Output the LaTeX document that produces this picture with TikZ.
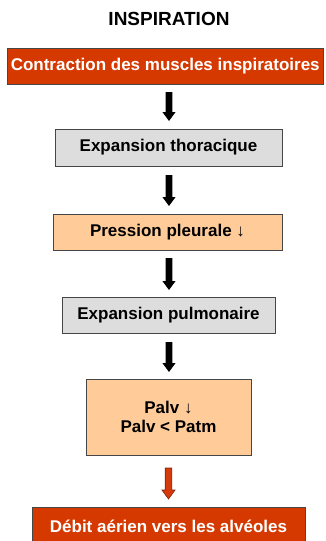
\documentclass[tikz,border=0pt]{standalone}
\usepackage{fontspec}
\setmainfont{Liberation Sans}
\usetikzlibrary{calc}
\definecolor{boxred}{RGB}{214,57,0}
\definecolor{arrred}{RGB}{214,57,10}
\definecolor{arrredline}{RGB}{120,40,20}
\definecolor{boxorange}{RGB}{255,204,153}
\definecolor{boxgray}{RGB}{221,221,221}
\definecolor{edge}{RGB}{70,70,70}
\newcommand\flowarrow[3]{%
  \filldraw[#1] ($(#2)+(-3.3,0)$) -- ($(#3)+(-3.3,-9)$) -- ($(#3)+(-6.6,-9)$) -- (#3)
    -- ($(#3)+(6.6,-9)$) -- ($(#3)+(3.3,-9)$) -- ($(#2)+(3.3,0)$) -- cycle;}
\begin{document}
\begin{tikzpicture}[x=1pt,y=-1pt,
  box/.style={draw=edge, line width=0.8pt, inner sep=0pt, align=center,
    font=\fontsize{17}{20}\selectfont\bfseries},
  redbox/.style={box, fill=boxred, text=white},
  graybox/.style={box, fill=boxgray, text=black},
  orangebox/.style={box, fill=boxorange, text=black},
  blackarr/.style={fill=black, draw=none},
  redarr/.style={fill=arrred, draw=arrredline, line width=0.6pt}]
\useasboundingbox (0,0) rectangle (326,541);
\fill[white] (0,0) rectangle (326,541);
\node[font=\fontsize{19}{22}\selectfont\bfseries] (title) at (169,18.5) {INSPIRATION};
\node[redbox, minimum width=315.5pt, minimum height=36pt] (b1) at (165.25,66) {Contraction des muscles inspiratoires};
\node[graybox, minimum width=227pt, minimum height=37pt] (b2) at (168.5,147.5) {Expansion thoracique};
\node[orangebox, minimum width=229pt, minimum height=36pt] (b3) at (167.5,232) {Pression pleurale ↓};
\node[graybox, minimum width=213pt, minimum height=36pt] (b4) at (168.5,315) {Expansion pulmonaire};
\node[orangebox, minimum width=165pt, minimum height=76pt] (b5) at (168.5,417) {Palv ↓\\[-1pt]Palv < Patm};
\node[redbox, minimum width=273pt, minimum height=38pt] (b6) at (168.5,526) {Débit aérien vers les alvéoles};
% connectors
\coordinate (s1) at (169,92);  \coordinate (e1) at (169,121);
\coordinate (s2) at (169,175); \coordinate (e2) at (169,206);
\coordinate (s3) at (169,258); \coordinate (e3) at (169,290);
\coordinate (s4) at (169,342); \coordinate (e4) at (169,372);
\coordinate (s5) at (168.5,468); \coordinate (e5) at (168.5,499);
\flowarrow{blackarr}{s1}{e1}
\flowarrow{blackarr}{s2}{e2}
\flowarrow{blackarr}{s3}{e3}
\flowarrow{blackarr}{s4}{e4}
\flowarrow{redarr}{s5}{e5}
\end{tikzpicture}
\end{document}
